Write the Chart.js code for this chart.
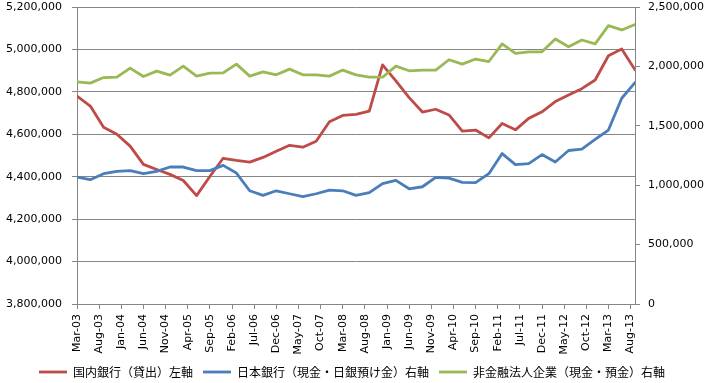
<!DOCTYPE html>
<html>
<head>
<meta charset="utf-8">
<script src="https://cdn.jsdelivr.net/npm/chart.js@4/dist/chart.umd.min.js"></script>
<style>
  html, body { margin: 0; padding: 0; background: #fff; }
  #wrap { width: 704px; height: 383px; position: relative; }
</style>
</head>
<body>
<div id="wrap"><canvas id="c" width="704" height="383"></canvas></div>
<script>
// Quarterly observation dates
const categories = [
  'Mar-03','Jun-03','Sep-03','Dec-03',
  'Mar-04','Jun-04','Sep-04','Dec-04',
  'Mar-05','Jun-05','Sep-05','Dec-05',
  'Mar-06','Jun-06','Sep-06','Dec-06',
  'Mar-07','Jun-07','Sep-07','Dec-07',
  'Mar-08','Jun-08','Sep-08','Dec-08',
  'Mar-09','Jun-09','Sep-09','Dec-09',
  'Mar-10','Jun-10','Sep-10','Dec-10',
  'Mar-11','Jun-11','Sep-11','Dec-11',
  'Mar-12','Jun-12','Sep-12','Dec-12',
  'Mar-13','Jun-13','Sep-13'
];

// 国内銀行（貸出）左軸
const domesticBankLoans = [
  4780000,4733000,4633000,4600000,4544000,4458000,4434000,4411000,4382000,4311000,
  4401000,4487000,4477000,4469000,4491000,4520000,4548000,4539000,4567000,4659000,
  4689000,4694000,4709000,4927000,4852000,4773000,4705000,4718000,4691000,4615000,
  4620000,4583000,4651000,4621000,4675000,4706000,4754000,4785000,4815000,4856000,
  4970000,5002000,4904000
];

// 日本銀行（現金・日銀預け金）右軸
const bojCashDeposits = [
  1068000,1046000,1097000,1117000,1123000,1097000,1117000,1153000,1153000,1123000,
  1123000,1167000,1102000,953000,914000,953000,928000,903000,928000,959000,
  953000,914000,937000,1013000,1041000,970000,987000,1066000,1060000,1024000,
  1021000,1097000,1266000,1173000,1182000,1258000,1195000,1292000,1303000,1385000,
  1464000,1732000,1864000
];

// 非金融法人企業（現金・預金）右軸
const corporateCashDeposits = [
  1870000,1859000,1906000,1909000,1986000,1915000,1960000,1926000,2002000,1918000,
  1943000,1946000,2019000,1918000,1954000,1929000,1977000,1929000,1929000,1918000,
  1969000,1929000,1909000,1909000,2002000,1963000,1969000,1969000,2056000,2019000,
  2062000,2041000,2189000,2109000,2123000,2123000,2231000,2166000,2222000,2189000,
  2343000,2307000,2352000
];

// X-axis tick labels (every 5 months)
const xTickLabels = [
  'Mar-03','Aug-03','Jan-04','Jun-04','Nov-04','Apr-05','Sep-05','Feb-06','Jul-06',
  'Dec-06','May-07','Oct-07','Mar-08','Aug-08','Jan-09','Jun-09','Nov-09','Apr-10',
  'Sep-10','Feb-11','Jul-11','Dec-11','May-12','Oct-12','Mar-13','Aug-13'
];

const seriesNames = [
  '国内銀行（貸出）左軸',
  '日本銀行（現金・日銀預け金）右軸',
  '非金融法人企業（現金・預金）右軸'
];

const MONTHS = ['Jan','Feb','Mar','Apr','May','Jun','Jul','Aug','Sep','Oct','Nov','Dec'];
function monthIndex(label) {
  const [m, y] = label.split('-');
  return (2000 + parseInt(y, 10) - 2003) * 12 + (MONTHS.indexOf(m) - 2);
}
function toPoints(values) {
  return categories.map((c, i) => ({ x: monthIndex(c), y: values[i] }));
}
function commas(v) {
  return String(Math.round(v)).replace(/\B(?=(\d{3})+(?!\d))/g, ',');
}

const GRID = '#868686';
Chart.defaults.font.family = '"DejaVu Sans", Verdana, sans-serif';
Chart.defaults.font.size = 11;
Chart.defaults.color = '#000';

function lineDs(label, values, color, axis, order) {
  return {
    label, data: toPoints(values), yAxisID: axis, order,
    borderColor: color, backgroundColor: color, borderWidth: 2.8,
    pointRadius: 0, tension: 0, borderJoinStyle: 'round', borderCapStyle: 'round'
  };
}
function fitY(width) {
  return (s) => { s.width = width; s.paddingTop = 7; s.paddingBottom = 7; };
}

new Chart(document.getElementById('c'), {
  type: 'line',
  data: {
    datasets: [
      lineDs(seriesNames[0], domesticBankLoans, '#BE4B48', 'yL', 3),
      lineDs(seriesNames[1], bojCashDeposits, '#4A7EBB', 'yR', 2),
      lineDs(seriesNames[2], corporateCashDeposits, '#98B954', 'yR', 1)
    ]
  },
  options: {
    responsive: false,
    animation: false,
    layout: { padding: { top: 0, left: 0, right: 0, bottom: -5 } },
    plugins: {
      tooltip: { enabled: false },
      legend: {
        position: 'bottom',
        labels: {
          usePointStyle: true,
          pointStyle: 'line',
          pointStyleWidth: 28,
          boxHeight: 12,
          padding: 10,
          color: '#000',
          font: { family: '"Noto Sans CJK JP", sans-serif', size: 12 },
          sort: (a, b) => a.datasetIndex - b.datasetIndex
        }
      }
    },
    scales: {
      x: {
        type: 'linear',
        min: 0,
        max: 126,
        afterFit: (s) => { s.height = 52; },
        border: { display: true, color: GRID, width: 1 },
        grid: { drawOnChartArea: false, drawTicks: true, tickLength: 5, color: GRID },
        ticks: {
          stepSize: 5,
          includeBounds: false,
          autoSkip: false,
          maxRotation: 90,
          minRotation: 90,
          padding: 5,
          callback: (v) => (v % 5 === 0 && xTickLabels[v / 5]) ? xTickLabels[v / 5] : null
        }
      },
      yL: {
        position: 'left',
        min: 3800000,
        max: 5200000,
        afterFit: fitY(77),
        border: { display: true, color: GRID, width: 1 },
        grid: { color: GRID, lineWidth: 1, drawTicks: true, tickLength: 5 },
        ticks: { stepSize: 200000, padding: 10, callback: (v) => commas(v) }
      },
      yR: {
        position: 'right',
        min: 0,
        max: 2500000,
        afterFit: fitY(69),
        border: { display: true, color: GRID, width: 1 },
        grid: { drawOnChartArea: false, drawTicks: true, tickLength: 5, color: GRID },
        ticks: { stepSize: 500000, padding: 8, callback: (v) => commas(v) }
      }
    }
  }
});
</script>
</body>
</html>
